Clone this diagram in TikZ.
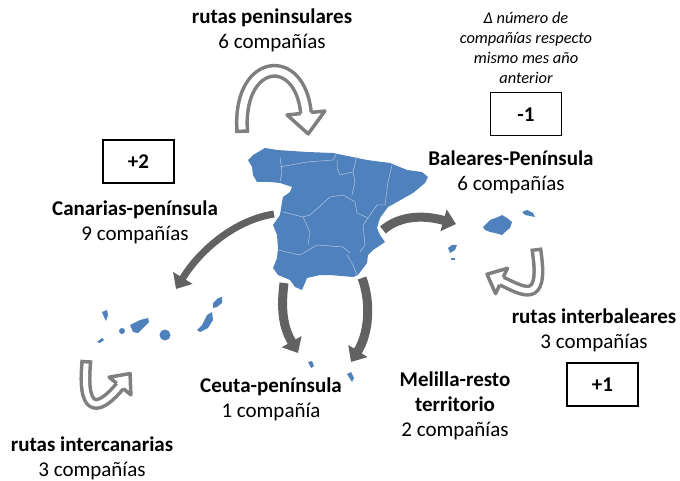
\documentclass[tikz,border=0pt]{standalone}
\usepackage{fontspec}
\setmainfont{Carlito}
\usetikzlibrary{positioning,arrows.meta}

\definecolor{mapblue}{RGB}{79,129,189}
\definecolor{flowgray}{RGB}{98,98,98}
\definecolor{loopgray}{RGB}{127,127,127}

\tikzset{
  pics/loophead/.style n args={3}{code={
    \fill[white] (0,-#1) -- (#2,0) -- (0,#1) -- cycle;
    \draw[loopgray, line width=3.5pt, line join=round] (0,-#3) -- (0,-#1) -- (#2,0) -- (0,#1) -- (0,#3);
  }}
}

\begin{document}
\begin{tikzpicture}[
    x=1pt, y=-1pt,
    routelabel/.style={align=center, font=\fontsize{21}{25}\selectfont},
    note/.style={align=center, font=\fontsize{16.4}{19.8}\selectfont\itshape},
    deltabox/.style={draw=black, line width=1.5pt, minimum width=71pt, minimum height=43pt, font=\fontsize{21}{25}\selectfont\bfseries},
    flow/.style={draw=flowgray, line width=9pt, -{Triangle[length=13pt,width=22pt]}},
    loop/.style={draw=loopgray, line width=3.5pt, double=white, double distance=7pt, line cap=rect},
    border/.style={draw=white!55!mapblue, line width=0.5pt},
  ]
  \useasboundingbox (0,0) rectangle (680,481);

  % peninsula
  \fill[mapblue] (248,160) -- (253,155) -- (265,148) -- (277,150) -- (307,152) -- (333,153)
    -- (367,160) -- (390,163) -- (407,170) -- (422,172) -- (428,177) -- (425,183) -- (413,193)
    -- (397,202) -- (388,207) -- (380,218) -- (377,228) -- (380,235) -- (385,242) -- (373,250)
    -- (368,255) -- (367,263) -- (358,275) -- (353,277) -- (330,275) -- (320,275) -- (307,278)
    -- (302,290) -- (295,287) -- (290,280) -- (278,275) -- (273,268) -- (277,258) -- (278,248)
    -- (277,235) -- (273,225) -- (280,215) -- (282,202) -- (283,197) -- (290,192) -- (292,187)
    -- (280,183) -- (270,182) -- (257,182) -- (253,175) -- (252,167) -- cycle;
  \draw[border] (280,157) -- (282,172) -- (280,182);
  \draw[border] (280,167) -- (307,162) -- (333,160) -- (337,153);
  \draw[border] (337,160) -- (337,168) -- (340,175) -- (353,172) -- (357,155);
  \draw[border] (353,172) -- (355,182) -- (352,195);
  \draw[border] (392,165) -- (388,182) -- (385,205);
  \draw[border] (283,212) -- (303,217) -- (310,215) -- (330,197) -- (343,195) -- (355,202)
    -- (357,213) -- (368,218) -- (377,205) -- (385,205);
  \draw[border] (303,217) -- (310,232) -- (308,245);
  \draw[border] (278,250) -- (300,255) -- (317,245) -- (343,247) -- (350,253);
  \draw[border] (347,255) -- (353,265) -- (357,275);
  \draw[border] (368,218) -- (363,225) -- (365,245) -- (360,252);

  % islands
  \fill[mapblue] (483,227) -- (490,220) -- (498,217) -- (502,215) -- (507,218) -- (512,222)
    -- (510,228) -- (505,232) -- (502,235) -- (495,233) -- (490,232) -- (485,230) -- cycle;
  \fill[mapblue] (522,212) -- (527,210) -- (533,213) -- (535,217) -- (530,216) -- (525,215) -- cycle;
  \fill[mapblue] (448,248) -- (452,245) -- (457,245) -- (455,250) -- (450,253) -- cycle;
  \fill[mapblue] (451,258) rectangle (455,260);
  \fill[mapblue] (102,312) -- (107,310) -- (108,315) -- (106,321) -- (104,317) -- cycle;
  \fill[mapblue] (97,342) -- (102,338) -- (104,340) -- (100,343) -- cycle;
  \fill[mapblue] (122,331) circle (3);
  \fill[mapblue] (130,325) -- (140,320) -- (148,318) -- (149,322) -- (143,328) -- (138,333)
    -- (133,332) -- cycle;
  \fill[mapblue] (165,335) circle (5.5);
  \fill[mapblue] (207,315) -- (212,312) -- (213,320) -- (208,328) -- (200,332) -- (197,330)
    -- (202,325) -- cycle;
  \fill[mapblue] (213,303) -- (218,298) -- (222,297) -- (222,303) -- (217,307) -- (213,308) -- cycle;
  \fill[mapblue] (308,362) -- (312,361) -- (314,366) -- (311,368) -- cycle;
  \fill[mapblue] (347,374) -- (351,372) -- (354,378) -- (352,382) -- cycle;

  % labels
  \node[routelabel] (pen) at (272,30) {\textbf{rutas peninsulares}\\6 compañías};
  \node[routelabel] (can) at (135,222) {\textbf{Canarias-península}\\9 compañías};
  \node[routelabel] (bal) at (511,172) {\textbf{Baleares-Península}\\6 compañías};
  \node[routelabel] (ibl) at (594,330) {\textbf{rutas interbaleares}\\3 compañías};
  \node[routelabel] (ceu) at (271,399) {\textbf{Ceuta-península}\\1 compañía};
  \node[routelabel] (mel) at (455,406) {\textbf{Melilla-resto}\\\textbf{territorio}\\2 compañías};
  \node[routelabel] (icn) at (92,458) {\textbf{rutas intercanarias}\\3 compañías};
  \node[note] (delta) at (526,48) {Δ número de\\compañías respecto\\mismo mes año\\anterior};
  \node[deltabox] (dbal) [below=5pt of delta] {-1};
  \node[deltabox] (dcan) at (138.5,161.5) {+2};
  \node[deltabox] (dibl) at (602.5,384.5) {+1};

  % flows from the peninsula
  \coordinate (sCan) at (274,214);
  \coordinate (tCan) at (176,289);
  \coordinate (sCeu) at (284,283);
  \coordinate (tCeu) at (298,353);
  \coordinate (sMel) at (362,278);
  \coordinate (tMel) at (351,362);
  \coordinate (sBal) at (383,230);
  \coordinate (tBal) at (456,224);
  \draw[flow, line width=7pt] (sCan) .. controls +(-39,6) and +(24,-39) .. (tCan);
  \draw[flow] (sCeu) .. controls +(-4,32) and +(-13,-23) .. (tCeu);
  \draw[flow] (sMel) .. controls +(10,27) and +(17,-27) .. (tMel);
  \draw[flow] (sBal) .. controls +(17,-15) and +(-31,-9) .. (tBal);

  % internal routes
  \coordinate (sPen) at (242,126);
  \coordinate (hPen) at (306,113);
  \draw[loop] (sPen) .. controls +(-2,-68) and +(-6,-61) .. (hPen);
  \pic[rotate=-84] at (hPen) {loophead={19}{21}{5.25}};
  \coordinate (sIbl) at (537,254);
  \coordinate (hIbl) at (501.5,281);
  \draw[loop, double distance=5pt] (sIbl) .. controls +(7,51) and +(21.5,10) .. (hIbl);
  \pic[rotate=155] at (hIbl) {loophead={14}{16}{4.25}};
  \coordinate (sIcn) at (86,366);
  \coordinate (hIcn) at (120,386);
  \draw[loop, double distance=5pt] (sIcn) .. controls +(-4,52) and +(-18,22) .. (hIcn);
  \pic[rotate=51] at (hIcn) {loophead={14}{16}{4.25}};
\end{tikzpicture}
\end{document}
